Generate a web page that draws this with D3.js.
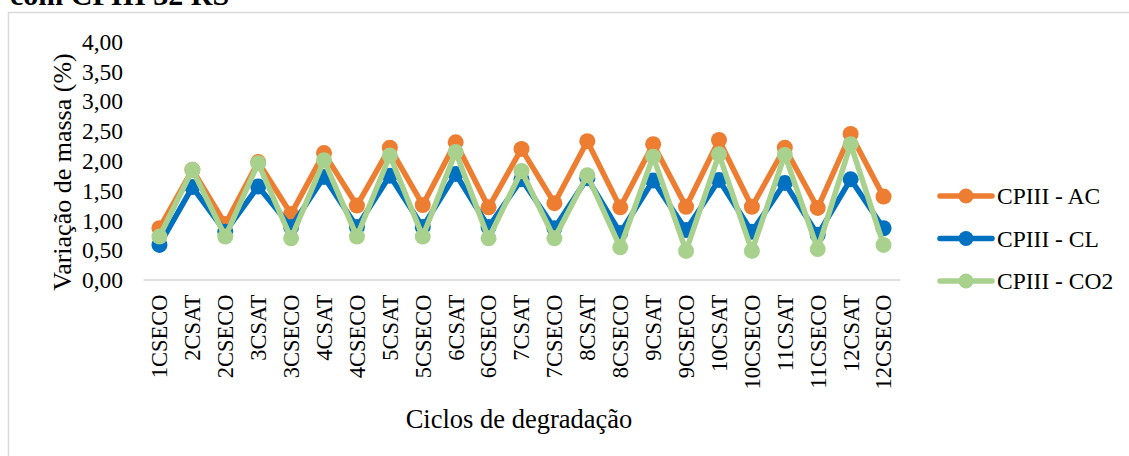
<!DOCTYPE html>
<html><head><meta charset="utf-8">
<script src="https://cdn.jsdelivr.net/npm/d3@7"></script>
<style>
html,body{margin:0;padding:0;background:#fff;}
svg{display:block;}
svg text{font-family:"Liberation Serif","Times New Roman",serif !important;}
</style></head>
<body>
<svg id="chart" width="1129" height="456"></svg>
<script>
const categories = ["1CSECO","2CSAT","2CSECO","3CSAT","3CSECO","4CSAT","4CSECO","5CSAT","5CSECO","6CSAT","6CSECO","7CSAT","7CSECO","8CSAT","8CSECO","9CSAT","9CSECO","10CSAT","10CSECO","11CSAT","11CSECO","12CSAT","12CSECO"];
const seriesNames = ["CPIII - AC","CPIII - CL","CPIII - CO2"];
const acValues  = [0.86,1.84,0.93,1.97,1.10,2.12,1.24,2.21,1.25,2.30,1.21,2.19,1.28,2.32,1.21,2.27,1.22,2.34,1.22,2.21,1.20,2.44,1.39];
const clValues  = [0.58,1.55,0.80,1.56,0.88,1.72,0.88,1.74,0.88,1.77,0.88,1.68,0.86,1.70,0.78,1.66,0.83,1.67,0.80,1.62,0.75,1.68,0.86];
const co2Values = [0.72,1.84,0.72,1.95,0.69,2.00,0.72,2.08,0.72,2.14,0.69,1.82,0.69,1.75,0.54,2.06,0.48,2.10,0.48,2.09,0.51,2.27,0.58];
const yTicks = [0,0.5,1,1.5,2,2.5,3,3.5,4];
const colors = ["#ED7D31","#0070C0","#A9D18E"];
const titleText = "com CPIII 32 RS";
const yTitle = "Variação de massa (%)";
const xTitle = "Ciclos de degradação";

const svg = d3.select("#chart");
const fmt = v => d3.format(".2f")(v).replace(".", ",");

// frame
svg.append("rect").attr("x",8.5).attr("y",12.5).attr("width",1200).attr("height",500)
  .attr("fill","none").attr("stroke","#D9D9D9").attr("stroke-width",1.5);
svg.append("text").attr("x",10).attr("y",5).attr("font-size",30).attr("font-weight","bold")
  .attr("fill","#000").text(titleText);

const x = d3.scaleBand().domain(categories).range([143,900]);
const y = d3.scaleLinear().domain([0,4]).range([279.5,41]);

// y axis labels
const yAxis = svg.append("g").attr("transform","translate(123,0)")
  .call(d3.axisLeft(y).tickValues(yTicks).tickFormat(fmt).tickSize(0).tickPadding(0));
yAxis.select(".domain").remove();
yAxis.selectAll("text").attr("font-size",23.5).attr("fill","#000").attr("dy","0.35em");

// x axis
const xAxis = svg.append("g").attr("transform","translate(0,279.5)")
  .call(d3.axisBottom(x).tickSize(0).tickPadding(0));
xAxis.select(".domain").attr("stroke","#D9D9D9").attr("stroke-width",1.5);
xAxis.selectAll("text").attr("font-size",22.5).attr("fill","#000")
  .attr("text-anchor","end").attr("transform","translate(0,15) rotate(-90)").attr("x",0).attr("y",0).attr("dy","0.35em");

// titles
svg.append("text").attr("transform","translate(62,172) rotate(-90)").attr("text-anchor","middle")
  .attr("font-size",26).attr("fill","#000").attr("dy","0.35em").text(yTitle);
svg.append("text").attr("x",519).attr("y",419).attr("text-anchor","middle")
  .attr("font-size",26.5).attr("fill","#000").attr("dy","0.35em").text(xTitle);

const cx = d => x(d) + x.bandwidth()/2;
const all = [acValues, clValues, co2Values];
const line = d3.line().x((d,i)=>cx(categories[i])).y(d=>y(d));
all.forEach((vals, s) => {
  const g = svg.append("g");
  g.append("path").datum(vals).attr("d", line).attr("fill","none")
    .attr("stroke", colors[s]).attr("stroke-width",5.5).attr("stroke-linejoin","round");
  g.selectAll("circle").data(vals).join("circle")
    .attr("cx",(d,i)=>cx(categories[i])).attr("cy",d=>y(d)).attr("r",8).attr("fill",colors[s]);
});

// legend
const lg = svg.append("g");
seriesNames.forEach((n, i) => {
  const ly = 196 + i*42.5;
  lg.append("line").attr("x1",940).attr("x2",992).attr("y1",ly).attr("y2",ly)
    .attr("stroke",colors[i]).attr("stroke-width",5.5).attr("stroke-linecap","round");
  lg.append("circle").attr("cx",966).attr("cy",ly).attr("r",7.5).attr("fill",colors[i]);
  lg.append("text").attr("x",997).attr("y",ly).attr("dy","0.35em").attr("font-size",23.5).attr("fill","#000").text(n);
});
</script>
</body></html>
